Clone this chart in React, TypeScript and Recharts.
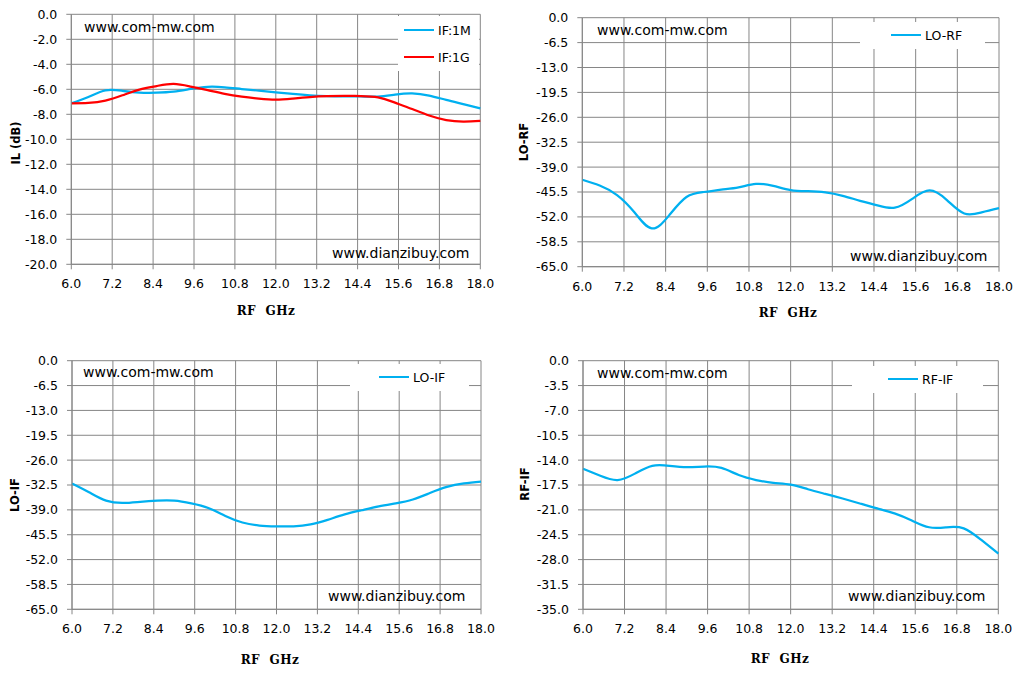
import React from "react";
import { CartesianGrid, Legend, Line, LineChart, XAxis, YAxis } from "recharts";

// frequency points (GHz)
const FREQ = [
  6.0, 6.5, 7.0, 7.5, 8.0, 8.5, 9.0, 9.5, 10.0, 10.5, 11.0, 11.5, 12.0, 12.5,
  13.0, 13.5, 14.0, 14.5, 15.0, 15.5, 16.0, 16.5, 17.0, 17.5, 18.0,
];

// insertion loss, dB
const IL_IF1M = [
  -7.12, -6.62, -6.08, -6.12, -6.26, -6.27, -6.19, -5.97, -5.8, -5.84, -5.98,
  -6.11, -6.24, -6.37, -6.48, -6.54, -6.56, -6.57, -6.58, -6.42, -6.32, -6.5,
  -6.85, -7.18, -7.52,
];
const IL_IF1G = [
  -7.12, -7.09, -6.9, -6.48, -6.02, -5.74, -5.57, -5.78, -6.07, -6.36, -6.58,
  -6.74, -6.83, -6.74, -6.62, -6.55, -6.53, -6.54, -6.64, -7.07, -7.58, -8.1,
  -8.46, -8.58, -8.53,
];

// isolation, dB
const LO_RF = [
  -42.3, -43.8, -46.3, -50.8, -55.0, -51.6, -46.8, -45.5, -44.9, -44.3, -43.4,
  -43.9, -45.0, -45.3, -45.6, -46.5, -47.8, -49.0, -49.6, -47.3, -45.1, -47.6,
  -51.1, -50.8, -49.7,
];
const LO_IF = [
  -32.1, -34.4, -36.6, -37.2, -36.9, -36.6, -36.6, -37.3, -38.5, -40.6, -42.3,
  -43.1, -43.3, -43.3, -42.8, -41.6, -40.2, -39.1, -38.1, -37.3, -36.3, -34.6,
  -33.0, -32.1, -31.6,
];
const RF_IF = [
  -15.2, -16.2, -16.8, -15.9, -14.8, -14.8, -15.0, -14.9, -15.1, -16.1, -16.8,
  -17.2, -17.45, -18.1, -18.75, -19.4, -20.1, -20.8, -21.5, -22.5, -23.45,
  -23.45, -23.6, -25.2, -27.15,
];

const X_TICKS = [6.0, 7.2, 8.4, 9.6, 10.8, 12.0, 13.2, 14.4, 15.6, 16.8, 18.0];
const IL_TICKS = [0, -2, -4, -6, -8, -10, -12, -14, -16, -18, -20];
const ISO_TICKS = [0, -6.5, -13, -19.5, -26, -32.5, -39, -45.5, -52, -58.5, -65];
const RFIF_TICKS = [0, -3.5, -7, -10.5, -14, -17.5, -21, -24.5, -28, -31.5, -35];

const GRID = "#868686";
const BLUE = "#00B0F0";
const RED = "#FF0000";
const FONT = "'DejaVu Sans', Verdana, sans-serif";

const data = FREQ.map((f, i) => ({
  f,
  if1m: IL_IF1M[i],
  if1g: IL_IF1G[i],
  lorf: LO_RF[i],
  loif: LO_IF[i],
  rfif: RF_IF[i],
}));

const fmt = (v: number) => v.toFixed(1);

const panels = [
  {
    box: { x: 0, y: 0, w: 513, h: 340 },
    margin: { top: 14.3, right: 32.7, bottom: 45.7, left: 11.3 },
    yDomain: [-20, 0],
    yTicks: IL_TICKS,
    series: [
      { key: "if1m", name: "IF:1M", color: BLUE },
      { key: "if1g", name: "IF:1G", color: RED },
    ],
    legend: { x: 398, y: 16, w: 81, h: 55, lineX: 6, rows: [14, 41] },
    yTitle: { text: "IL (dB)", x: 16, y: 143 },
    xTitle: { x: 266, y: 311 },
    mark1: { x: 84, y: 27 },
    mark2: { x: 332, y: 253 },
  },
  {
    box: { x: 510, y: 0, w: 516, h: 340 },
    margin: { top: 17.7, right: 27, bottom: 43.3, left: 12.3 },
    yDomain: [-65, 0],
    yTicks: ISO_TICKS,
    series: [{ key: "lorf", name: "LO-RF", color: BLUE }],
    legend: { x: 350, y: 22, w: 125, h: 27, lineX: 31, rows: [13] },
    yTitle: { text: "LO-RF", x: 524, y: 142 },
    xTitle: { x: 788, y: 313 },
    mark1: { x: 597, y: 30 },
    mark2: { x: 850, y: 256 },
  },
  {
    box: { x: 0, y: 340, w: 513, h: 335 },
    margin: { top: 20.7, right: 32, bottom: 35.7, left: 12 },
    yDomain: [-65, 0],
    yTicks: ISO_TICKS,
    series: [{ key: "loif", name: "LO-IF", color: BLUE }],
    legend: { x: 350, y: 24, w: 119, h: 27, lineX: 29, rows: [13] },
    yTitle: { text: "LO-IF", x: 15, y: 495 },
    xTitle: { x: 270, y: 660 },
    mark1: { x: 83, y: 372 },
    mark2: { x: 328, y: 596 },
  },
  {
    box: { x: 510, y: 340, w: 516, h: 335 },
    margin: { top: 20.7, right: 27.7, bottom: 35.7, left: 13 },
    yDomain: [-35, 0],
    yTicks: RFIF_TICKS,
    series: [{ key: "rfif", name: "RF-IF", color: BLUE }],
    legend: { x: 342, y: 26, w: 131, h: 27, lineX: 36, rows: [13] },
    yTitle: { text: "RF-IF", x: 525, y: 484 },
    xTitle: { x: 780, y: 659 },
    mark1: { x: 597, y: 373 },
    mark2: { x: 848, y: 596 },
  },
];

const tickStyle = { fill: "#000", fontSize: 12.5, fontFamily: FONT };
const markStyle: React.CSSProperties = {
  position: "absolute",
  fontFamily: FONT,
  fontSize: 14,
  color: "#000",
  whiteSpace: "nowrap",
  transform: "translateY(-50%)",
};

const Panel = ({ p }: { p: (typeof panels)[number] }) => {
  const lg = p.legend;
  const legendContent = () => (
    <div style={{ position: "relative", width: lg.w, height: lg.h, background: "#fff" }}>
      {p.series.map((s, i) => (
        <div
          key={s.key}
          style={{
            position: "absolute",
            left: lg.lineX,
            top: lg.rows[i] - 8,
            height: 16,
            display: "flex",
            alignItems: "center",
            whiteSpace: "nowrap",
          }}
        >
          <span style={{ display: "inline-block", width: 30, height: 2.5, background: s.color }} />
          <span style={{ marginLeft: 4, fontFamily: FONT, fontSize: 12.5, color: "#000" }}>{s.name}</span>
        </div>
      ))}
    </div>
  );

  return (
    <>
      <div style={{ position: "absolute", left: p.box.x, top: p.box.y }}>
        <LineChart width={p.box.w} height={p.box.h} data={data} margin={p.margin}>
          <CartesianGrid stroke={GRID} strokeWidth={1} />
          <XAxis
            dataKey="f"
            type="number"
            domain={[6, 18]}
            ticks={X_TICKS}
            interval={0}
            tickFormatter={fmt}
            tick={tickStyle}
            tickSize={5}
            tickMargin={10}
            axisLine={{ stroke: GRID }}
            tickLine={{ stroke: GRID }}
            height={30}
          />
          <YAxis
            type="number"
            domain={p.yDomain}
            ticks={p.yTicks}
            interval={0}
            tickFormatter={fmt}
            tick={tickStyle}
            tickSize={5}
            tickMargin={9}
            axisLine={{ stroke: GRID }}
            tickLine={{ stroke: GRID }}
            width={60}
          />
          {p.series.map((s) => (
            <Line
              key={s.key}
              dataKey={s.key}
              name={s.name}
              type="natural"
              stroke={s.color}
              strokeWidth={2.25}
              dot={false}
              activeDot={false}
              isAnimationActive={false}
            />
          ))}
          <Legend
            layout="vertical"
            align="center"
            verticalAlign="middle"
            wrapperStyle={{ left: lg.x, top: lg.y, width: lg.w, height: lg.h }}
            content={legendContent}
          />
        </LineChart>
      </div>
      <div style={{ ...markStyle, left: p.mark1.x, top: p.mark1.y }}>www.com-mw.com</div>
      <div style={{ ...markStyle, left: p.mark2.x, top: p.mark2.y }}>www.dianzibuy.com</div>
      <div
        style={{
          position: "absolute",
          left: p.yTitle.x,
          top: p.yTitle.y,
          transform: "translate(-50%, -50%) rotate(-90deg)",
          fontFamily: FONT,
          fontWeight: "bold",
          fontSize: 11.5,
          whiteSpace: "nowrap",
          color: "#000",
        }}
      >
        {p.yTitle.text}
      </div>
      <div
        style={{
          position: "absolute",
          left: p.xTitle.x,
          top: p.xTitle.y,
          transform: "translate(-50%, -50%)",
          fontFamily: "'DejaVu Serif', serif",
          fontWeight: "bold",
          fontSize: 12,
          letterSpacing: 0.5,
          whiteSpace: "pre",
          color: "#000",
        }}
      >
        {"RF  GHz"}
      </div>
    </>
  );
};

export default function App() {
  return (
    <div
      style={{
        position: "absolute",
        left: 0,
        top: 0,
        width: 1026,
        height: 675,
        background: "#fff",
        overflow: "hidden",
      }}
    >
      {panels.map((p, i) => (
        <Panel key={i} p={p} />
      ))}
    </div>
  );
}
